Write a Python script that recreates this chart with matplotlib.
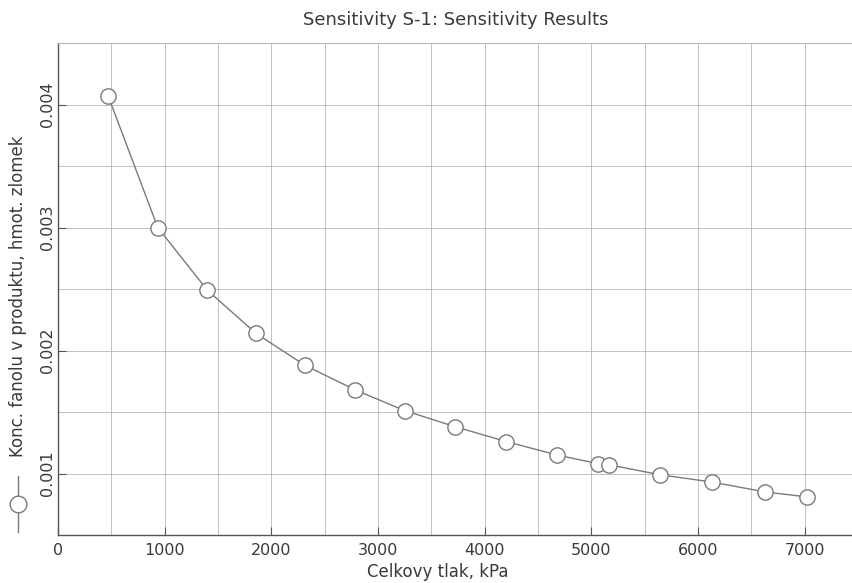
import numpy as np
import matplotlib
matplotlib.use("Agg")
import matplotlib.pyplot as plt
from matplotlib.lines import Line2D

# values
pressure_kpa = [470, 935, 1400, 1855, 2315, 2785, 3255, 3725, 4200, 4680,
                5065, 5170, 5645, 6135, 6630, 7020]
phenol_frac = [0.00407, 0.00300, 0.00249, 0.00214, 0.00188, 0.00168, 0.00151,
               0.00138, 0.00126, 0.00115, 0.00108, 0.00107, 0.00099, 0.00093,
               0.00085, 0.00081]

x_ticks = [0, 1000, 2000, 3000, 4000, 5000, 6000, 7000]
y_ticks = [0.001, 0.002, 0.003, 0.004]

title = "Sensitivity S-1: Sensitivity Results"
x_label = "Celkovy tlak, kPa"
y_label = "Konc. fanolu v produktu, hmot. zlomek"

W, H = 852, 583
fig = plt.figure(figsize=(W / 100, H / 100), dpi=100)
ax = fig.add_axes([58 / W, 1 - 535 / H, (858 - 58) / W, (535 - 43) / H])

line_col = "#7a7a7a"
grid_col = "#b8b8b8"
text_col = "#3a3a3a"

ax.plot(pressure_kpa, phenol_frac, color=line_col, linewidth=1.0,
        marker="o", markersize=11, markerfacecolor="white",
        markeredgecolor=line_col, markeredgewidth=1.0, zorder=3)

ax.set_xlim(0, 7500)
ax.set_ylim(0.0005, 0.0045)
ax.set_xticks(x_ticks)
ax.set_xticklabels([str(t) for t in x_ticks])
ax.set_yticks(y_ticks)
ax.set_yticklabels([f"{t:.3f}" for t in y_ticks], rotation=90, va="center")
ax.set_xticks(np.arange(500, 7500, 1000), minor=True)
ax.set_yticks(np.arange(0.0015, 0.0045, 0.001), minor=True)

ax.grid(True, which="both", color=grid_col, linewidth=0.6)
ax.set_axisbelow(True)
ax.tick_params(which="major", direction="in", length=6, color="#555555",
               labelsize=11.5, labelcolor=text_col, pad=6)
ax.tick_params(axis="y", which="major", pad=2)
ax.tick_params(which="minor", direction="in", length=0)

for side in ["left", "bottom"]:
    ax.spines[side].set_color("#555555")
    ax.spines[side].set_linewidth(1.0)
ax.spines["top"].set_color(grid_col)
ax.spines["top"].set_linewidth(0.8)
ax.spines["right"].set_visible(False)

fig.text(456 / W, 1 - 20 / H, title, ha="center", va="center",
         fontsize=13, color=text_col)
fig.text(438 / W, 1 - 572 / H, x_label, ha="center", va="center",
         fontsize=12, color=text_col)
fig.text(18 / W, 1 - 296 / H, y_label, ha="center", va="center",
         rotation=90, fontsize=12, color=text_col)

# legend swatch drawn under the y label
fig.add_artist(Line2D([18 / W, 18 / W], [1 - 532 / H, 1 - 476 / H],
                      transform=fig.transFigure, color=line_col, linewidth=1.0))
fig.add_artist(Line2D([18 / W], [1 - 504 / H], transform=fig.transFigure,
                      marker="o", markersize=12, markerfacecolor="white",
                      markeredgecolor=line_col, markeredgewidth=1.0))

fig.savefig("out.png", dpi=100)
